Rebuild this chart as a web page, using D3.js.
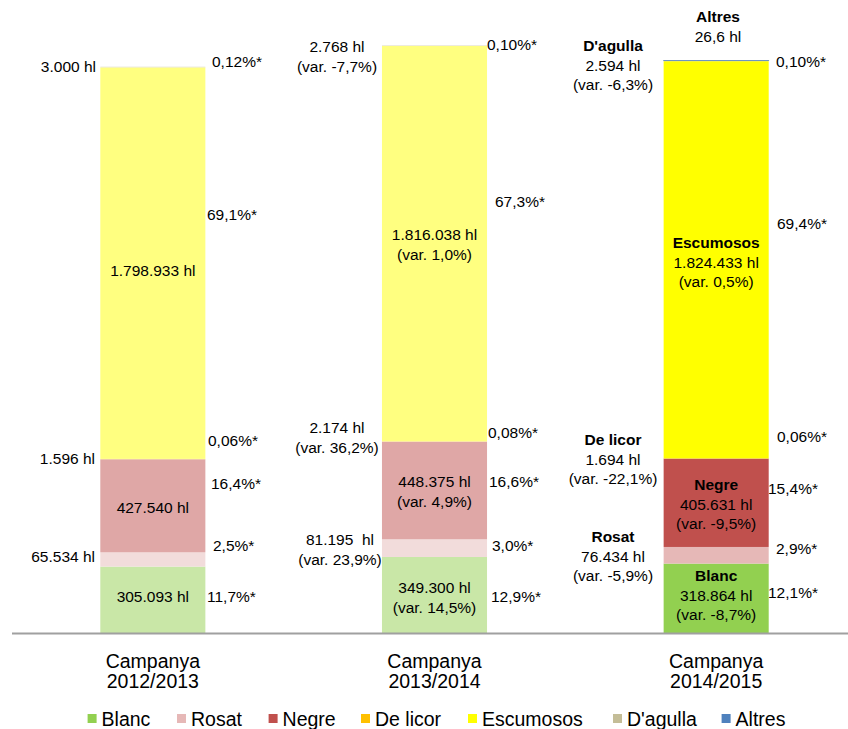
<!DOCTYPE html>
<html><head><meta charset="utf-8">
<script src="https://cdn.jsdelivr.net/npm/d3@7/dist/d3.min.js"></script>
<style>
html,body{margin:0;padding:0;background:#fff;}
svg{display:block;font-family:"Liberation Sans",Arial,sans-serif;}
svg text{white-space:pre;}
</style></head>
<body>
<svg id="chart" width="848" height="729"></svg>
<script>
// ---- data ----
const categories = ["2012/2013", "2013/2014", "2014/2015"];
const categoryPrefix = "Campanya";
const seriesNames = ["Blanc", "Rosat", "Negre", "De licor", "Escumosos", "D'agulla", "Altres"];
const blanc     = [305093, 349300, 318864];
const rosat     = [65534, 81195, 76434];
const negre     = [427540, 448375, 405631];
const deLicor   = [1596, 2174, 1694];
const escumosos = [1798933, 1816038, 1824433];
const dagulla   = [3000, 2768, 2594];
const altres    = [0, 0, 26.6];
const legendLabels = ["Blanc", "Rosat", "Negre", "De licor", "Escumosos", "D'agulla", "Altres"];

// ---- styles ----
const strongColors = ["#92d050", "#e6b8b7", "#c0504d", "#ffc000", "#ffff00", "#c4bd97", "#4f81bd"];
const paleColors   = ["#c9e7a7", "#f2dcdb", "#dfa7a6", "#ffe080", "#ffff80", "#e2decb", "#a7c0de"];

const svg = d3.select("#chart");
const baseY = 633;
const x = d3.scaleBand().domain(categories).range([12, 857]).paddingInner(0.627).paddingOuter(0.3135);
const y = d3.scaleLinear().domain([0, 3000000]).range([baseY, -20]);

const seriesValues = [blanc, rosat, negre, deLicor, escumosos, dagulla, altres];
const table = categories.map((c, i) => {
  const o = {cat: c};
  seriesNames.forEach((s, j) => o[s] = seriesValues[j][i]);
  return o;
});
const stack = d3.stack().keys(seriesNames)(table);

const g = svg.append("g");
stack.forEach((layer, j) => {
  g.selectAll(null).data(layer).join("rect")
    .attr("x", d => x(d.data.cat))
    .attr("width", x.bandwidth())
    .attr("y", d => y(d[1]))
    .attr("height", d => Math.max(0, y(d[0]) - y(d[1])))
    .attr("fill", (d, i) => i === 2 ? strongColors[j] : paleColors[j])
    .attr("stroke", (d, i) => (seriesNames[j] === "Altres" && d[1] - d[0] > 0) ? strongColors[j] : "none")
    .attr("stroke-width", 0.8);
});

// baseline axis
svg.append("line").attr("x1", 12).attr("x2", 848).attr("y1", baseY + 0.5).attr("y2", baseY + 0.5)
  .attr("stroke", "#a0a0a0").attr("stroke-width", 2);

// category labels
categories.forEach(c => {
  const cx = x(c) + x.bandwidth() / 2;
  const t = svg.append("text").attr("x", cx).attr("text-anchor", "middle")
    .attr("font-size", 19.5).attr("fill", "#000");
  t.append("tspan").attr("x", cx).attr("y", 668).text(categoryPrefix);
  t.append("tspan").attr("x", cx).attr("y", 688).text(c);
});

// annotations: [text lines, x, yFirst, anchor, bold first line]
const fs = 15.5;
const lh = 19.5;
const ann = [
  // bar 1
  [["3.000 hl"], 96, 67, "end"],
  [["0,12%*"], 212, 62, "start"],
  [["69,1%*"], 207, 215, "start"],
  [["1.798.933 hl"], "c0", 271, "middle"],
  [["0,06%*"], 208, 441, "start"],
  [["1.596 hl"], 95, 459, "end"],
  [["16,4%*"], 211, 484, "start"],
  [["427.540 hl"], "c0", 508, "middle"],
  [["2,5%*"], 213, 546, "start"],
  [["65.534 hl"], 95, 557, "end"],
  [["305.093 hl"], "c0", 597, "middle"],
  [["11,7%*"], 207, 597, "start"],
  // bar 2
  [["2.768 hl", "(var. -7,7%)"], 337, 47, "middle"],
  [["0,10%*"], 487, 45, "start"],
  [["67,3%*"], 495, 202, "start"],
  [["1.816.038 hl", "(var. 1,0%)"], "c1", 235, "middle"],
  [["2.174 hl", "(var. 36,2%)"], 337, 428, "middle"],
  [["0,08%*"], 488, 433, "start"],
  [["448.375 hl", "(var. 4,9%)"], "c1", 482, "middle"],
  [["16,6%*"], 489, 482, "start"],
  [["81.195  hl", "(var. 23,9%)"], 340, 540, "middle"],
  [["3,0%*"], 492, 546, "start"],
  [["349.300 hl", "(var. 14,5%)"], "c1", 588, "middle"],
  [["12,9%*"], 491, 597, "start"],
  // bar 3
  [["Altres", "26,6 hl"], 718, 17, "middle", true],
  [["D'agulla", "2.594 hl", "(var. -6,3%)"], 613, 46, "middle", true],
  [["0,10%*"], 776, 62, "start"],
  [["69,4%*"], 777, 224, "start"],
  [["Escumosos", "1.824.433 hl", "(var. 0,5%)"], "c2", 243, "middle", true],
  [["De licor", "1.694 hl", "(var. -22,1%)"], 613, 440, "middle", true],
  [["0,06%*"], 777, 437, "start"],
  [["Negre", "405.631 hl", "(var. -9,5%)"], "c2", 485, "middle", true],
  [["15,4%*"], 768, 489, "start"],
  [["Rosat", "76.434 hl", "(var. -5,9%)"], 613, 537, "middle", true],
  [["2,9%*"], 776, 549, "start"],
  [["Blanc", "318.864 hl", "(var. -8,7%)"], "c2", 576, "middle", true],
  [["12,1%*"], 768, 593, "start"]
];
ann.forEach(([lines, ax, ay, anchor, bold]) => {
  const px = typeof ax === "string" ? x(categories[+ax[1]]) + x.bandwidth() / 2 : ax;
  const t = svg.append("text").attr("text-anchor", anchor).attr("font-size", fs).attr("fill", "#000");
  lines.forEach((l, k) => {
    t.append("tspan").attr("x", px).attr("y", ay + k * lh).attr("dy", "0.35em")
      .attr("font-weight", bold && k === 0 ? "bold" : "normal").text(l);
  });
});

// legend
const legendX = [87.6, 177, 268.6, 361, 468, 613, 721.6];
const lg = svg.append("g");
legendLabels.forEach((l, j) => {
  lg.append("rect").attr("x", legendX[j]).attr("y", 714).attr("width", 9).attr("height", 9).attr("fill", strongColors[j]);
  lg.append("text").attr("x", legendX[j] + 14).attr("y", 719).attr("dy", "0.35em")
    .attr("font-size", 19.5).attr("fill", "#000").text(l);
});
</script>
</body></html>
